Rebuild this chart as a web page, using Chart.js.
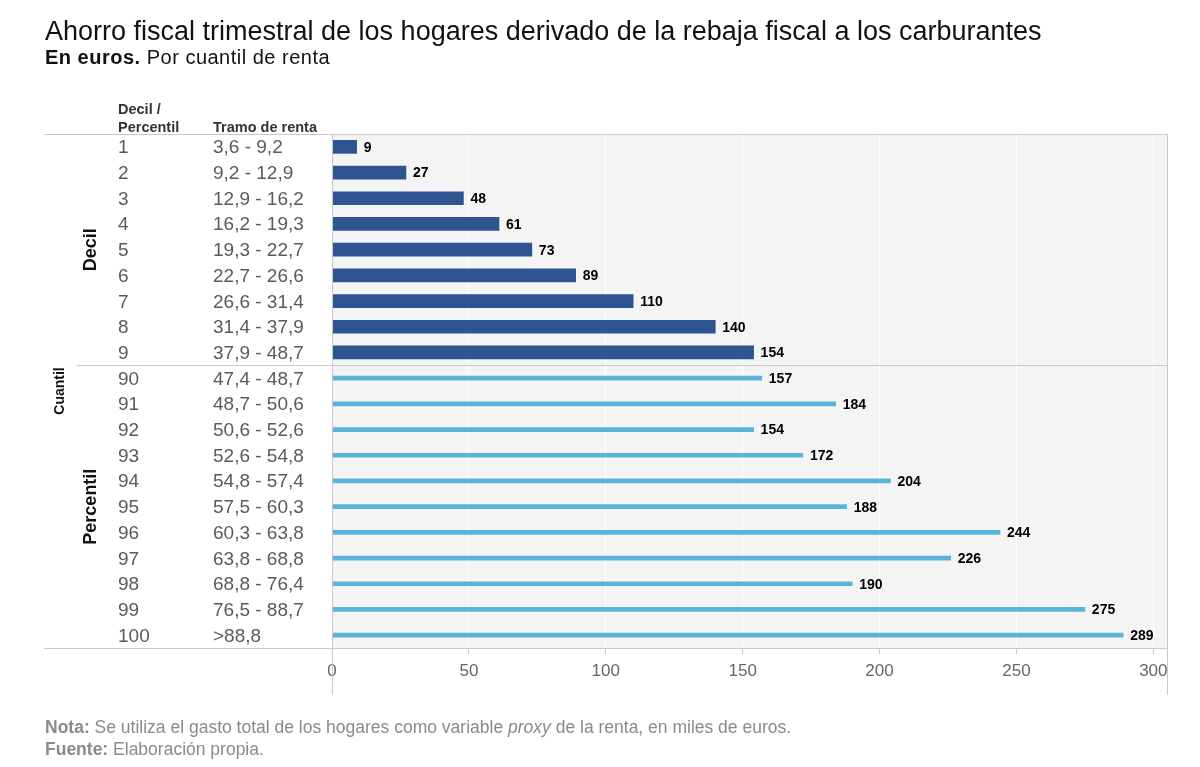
<!DOCTYPE html>
<html>
<head>
<meta charset="utf-8">
<script src="https://cdn.jsdelivr.net/npm/chart.js@4.4.1/dist/chart.umd.min.js"></script>
<style>
    html, body { margin: 0; padding: 0; background: #fff; }
    body { width: 1200px; height: 767px; position: relative; overflow: hidden; font-family: "Liberation Sans", Arial, sans-serif; }
    #wrap { position: absolute; left: 0; top: 0; width: 1200px; height: 767px; }
    .title { position: absolute; left: 45px; top: 16px; font-size: 27px; color: #111; white-space: nowrap; }
    .subtitle { position: absolute; left: 45px; top: 46px; font-size: 20px; letter-spacing: 0.5px; color: #111; white-space: nowrap; }
    .nota { position: absolute; left: 45px; top: 716px; font-size: 17.5px; color: #8a8a8a; line-height: 22px; white-space: nowrap; }
</style>
</head>
<body>
<div id="wrap"><canvas id="ahorroChart"></canvas></div>
<div class="title">Ahorro fiscal trimestral de los hogares derivado de la rebaja fiscal a los carburantes</div>
<div class="subtitle"><b>En euros.</b> Por cuantil de renta</div>
<div class="nota"><b>Nota:</b> Se utiliza el gasto total de los hogares como variable <i>proxy</i> de la renta, en miles de euros.<br><b>Fuente:</b> Elaboración propia.</div>

<script>
// datos
const deciles = ['1', '2', '3', '4', '5', '6', '7', '8', '9'];
const percentiles = ['90', '91', '92', '93', '94', '95', '96', '97', '98', '99', '100'];
const tramosDecil = ['3,6 - 9,2', '9,2 - 12,9', '12,9 - 16,2', '16,2 - 19,3', '19,3 - 22,7',
    '22,7 - 26,6', '26,6 - 31,4', '31,4 - 37,9', '37,9 - 48,7'];
const tramosPercentil = ['47,4 - 48,7', '48,7 - 50,6', '50,6 - 52,6', '52,6 - 54,8', '54,8 - 57,4',
    '57,5 - 60,3', '60,3 - 63,8', '63,8 - 68,8', '68,8 - 76,4', '76,5 - 88,7', '>88,8'];
const ahorroDecil = [9, 27, 48, 61, 73, 89, 110, 140, 154];
const ahorroPercentil = [157, 184, 154, 172, 204, 188, 244, 226, 190, 275, 289];
const xTicks = [0, 50, 100, 150, 200, 250, 300];

const cuantiles = deciles.concat(percentiles);
const tramos = tramosDecil.concat(tramosPercentil);
const serieDecil = ahorroDecil.concat(percentiles.map(() => null));
const seriePercentil = deciles.map(() => null).concat(ahorroPercentil);

const FONT = '"Liberation Sans", Arial, sans-serif';
const LINE = '#c9c9c9';

const tablaPlugin = {
    id: 'tabla',
    beforeDraw(chart) {
        const { ctx, chartArea: a } = chart;
        ctx.save();
        ctx.fillStyle = '#f4f4f4';
        ctx.fillRect(a.left, a.top, a.right - a.left, a.bottom - a.top);
        ctx.restore();
    },
    afterDatasetsDraw(chart) {
        const ctx = chart.ctx;
        ctx.save();
        ctx.font = 'bold 14px ' + FONT;
        ctx.fillStyle = '#000';
        ctx.textBaseline = 'middle';
        ctx.textAlign = 'left';
        chart.data.datasets.forEach((ds, i) => {
            chart.getDatasetMeta(i).data.forEach((bar, j) => {
                if (ds.data[j] == null) return;
                ctx.fillText(ds.data[j], bar.x + 7, bar.y + 1);
            });
        });
        ctx.restore();
    },
    afterDraw(chart) {
        const { ctx, chartArea: a } = chart;
        const y = chart.scales.y;
        ctx.save();

        // lineas de la tabla
        const sep = (y.getPixelForValue(deciles.length - 1) + y.getPixelForValue(deciles.length)) / 2;
        ctx.strokeStyle = LINE;
        ctx.lineWidth = 1;
        ctx.beginPath();
        ctx.moveTo(44, a.top + 0.5); ctx.lineTo(a.right, a.top + 0.5);
        ctx.moveTo(77, Math.round(sep) + 0.5); ctx.lineTo(a.right, Math.round(sep) + 0.5);
        ctx.moveTo(44, a.bottom + 0.5); ctx.lineTo(a.right, a.bottom + 0.5);
        ctx.moveTo(a.left + 0.5, a.top); ctx.lineTo(a.left + 0.5, 695);
        ctx.moveTo(a.right + 0.5, a.top); ctx.lineTo(a.right + 0.5, 695);
        ctx.stroke();

        // cabeceras
        ctx.fillStyle = '#333';
        ctx.font = 'bold 14.5px ' + FONT;
        ctx.textAlign = 'left';
        ctx.textBaseline = 'alphabetic';
        ctx.fillText('Decil /', 118, 114);
        ctx.fillText('Percentil', 118, 132);
        ctx.fillText('Tramo de renta', 213, 132);

        // filas
        ctx.fillStyle = '#5a5a5a';
        ctx.font = '19px ' + FONT;
        cuantiles.forEach((c, i) => {
            const py = y.getPixelForValue(i) + 6.5;
            ctx.fillText(c, 118, py);
            ctx.fillText(tramos[i], 213, py);
        });

        // etiquetas giradas
        const midDecil = (y.getPixelForValue(0) + y.getPixelForValue(deciles.length - 1)) / 2;
        const midPerc = (y.getPixelForValue(deciles.length) + y.getPixelForValue(cuantiles.length - 1)) / 2;
        const rotated = (text, x, yy, font) => {
            ctx.save();
            ctx.translate(x, yy);
            ctx.rotate(-Math.PI / 2);
            ctx.font = font;
            ctx.fillStyle = '#111';
            ctx.textAlign = 'center';
            ctx.textBaseline = 'middle';
            ctx.fillText(text, 0, 0);
            ctx.restore();
        };
        rotated('Decil', 91, midDecil, 'bold 18px ' + FONT);
        rotated('Percentil', 91, midPerc, 'bold 18px ' + FONT);
        rotated('Cuantil', 60, (a.top + a.bottom) / 2, 'bold 14px ' + FONT);

        ctx.restore();
    }
};

new Chart(document.getElementById('ahorroChart'), {
    type: 'bar',
    data: {
        labels: cuantiles,
        datasets: [
            { label: 'Decil', data: serieDecil, backgroundColor: '#2e5592', barThickness: 13 },
            { label: 'Percentil', data: seriePercentil, backgroundColor: '#5ab4d9', barThickness: 4 }
        ]
    },
    options: {
        indexAxis: 'y',
        responsive: true,
        maintainAspectRatio: false,
        animation: false,
        grouped: false,
        layout: { padding: { top: 134, right: 33, left: 0, bottom: 0 } },
        plugins: { legend: { display: false }, tooltip: { enabled: false } },
        scales: {
            x: {
                min: 0,
                max: 305,
                afterFit(scale) { scale.height = 119; },
                afterBuildTicks(scale) { scale.ticks = xTicks.map(v => ({ value: v })); },
                border: { display: false },
                grid: { color: '#ffffff', lineWidth: 1, drawTicks: true, tickLength: 6, tickColor: LINE },
                ticks: { color: '#666', font: { family: FONT, size: 17 }, padding: 7, maxRotation: 0 }
            },
            y: {
                afterFit(scale) { scale.width = 332; },
                border: { display: false },
                grid: { display: false },
                ticks: { display: false }
            }
        }
    },
    plugins: [tablaPlugin]
});
</script>
</body>
</html>
